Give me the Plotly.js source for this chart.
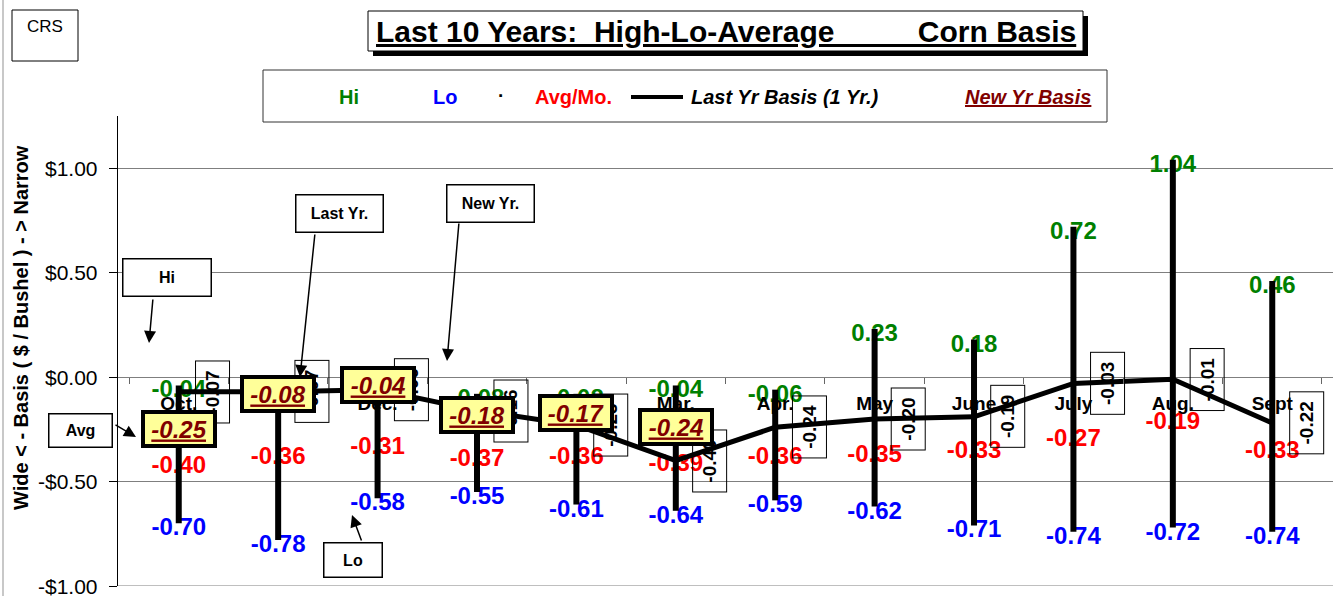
<!DOCTYPE html>
<html>
<head>
<meta charset="utf-8">
<script src="https://cdn.plot.ly/plotly-3.0.1.min.js"></script>
<style>html,body{margin:0;padding:0;background:#fff;}#chart{width:1337px;height:596px;}</style>
</head>
<body>
<div id="chart"></div>
<script>
// ---- data ----
const months = ['Oct.','Nov.','Dec.','Jan.','Feb.','Mar.','Apr.','May','June','July','Aug.','Sept'];
const hiVals = [-0.04,-0.10,-0.05,-0.08,-0.08,-0.04,-0.06,0.23,0.18,0.72,1.04,0.46];
const loVals = [-0.70,-0.78,-0.58,-0.55,-0.61,-0.64,-0.59,-0.62,-0.71,-0.74,-0.72,-0.74];
const avgVals = [-0.40,-0.36,-0.31,-0.37,-0.36,-0.39,-0.36,-0.35,-0.33,-0.27,-0.19,-0.33];
const lastYrVals = [-0.07,-0.07,-0.06,-0.16,-0.23,-0.40,-0.24,-0.20,-0.19,-0.03,-0.01,-0.22];
const newYrVals = [-0.25,-0.08,-0.04,-0.18,-0.17,-0.24,null,null,null,null,null,null];
const yTickVals = [-1,-0.5,0,0.5,1];
const yTickText = ['-$1.00','-$0.50','$0.00','$0.50','$1.00'];

const FONT = 'Arial, "Liberation Sans", sans-serif';
const L = 118, R = 4, T = 116, B = 10, W = 1337, H = 596;
const pw = W - L - R, ph = H - T - B;
const px = x => (x - L) / pw;
const py = y => (H - B - y) / ph;
const fmt = v => v.toFixed(2);
const Y_RANGE = [-1, 1.25];
const labelShift = 6 * (Y_RANGE[1] - Y_RANGE[0]) / ph; // value labels sit a few px below their value

// hi-lo bars built from the data arrays
const barX = [], barY = [];
months.forEach((m, i) => { barX.push(m, m, null); barY.push(hiVals[i], loVals[i], null); });

const textTrace = (vals, color) => ({
  type: 'scatter', mode: 'text', x: months, y: vals, yaxis: 'y2', text: vals.map(fmt),
  textposition: 'middle center', cliponaxis: false, hoverinfo: 'skip',
  textfont: {family: FONT, size: 24, color: color, weight: 'bold'}
});

const traces = [
  textTrace(hiVals, '#008000'),
  textTrace(loVals, '#0000FF'),
  textTrace(avgVals, '#FF0000'),
  {type: 'scatter', mode: 'lines', x: barX, y: barY, yaxis: 'y3', connectgaps: false,
   line: {color: 'black', width: 6}, hoverinfo: 'skip'},
  {type: 'scatter', mode: 'lines', x: months, y: lastYrVals, yaxis: 'y3',
   line: {color: 'black', width: 5}, hoverinfo: 'skip'}
];

const shapes = [
  {type: 'line', xref: 'paper', yref: 'paper', x0: px(3), x1: px(3), y0: py(0), y1: py(596), line: {color: '#c8c8c8', width: 2}},
  {type: 'line', xref: 'paper', yref: 'y', x0: 0, x1: 1, y0: -1, y1: -1, line: {color: '#7f7f7f', width: 1}},
  {type: 'rect', xref: 'paper', yref: 'paper', x0: px(12), x1: px(78), y0: py(61), y1: py(10), line: {color: 'black', width: 1}, fillcolor: 'white'},
  {type: 'rect', xref: 'paper', yref: 'paper', x0: px(373), x1: px(1088), y0: py(56), y1: py(16), line: {width: 0}, fillcolor: 'black'},
  {type: 'rect', xref: 'paper', yref: 'paper', x0: px(368), x1: px(1083), y0: py(51), y1: py(11), line: {color: 'black', width: 1}, fillcolor: 'white'},
  {type: 'rect', xref: 'paper', yref: 'paper', x0: px(263), x1: px(1107), y0: py(122), y1: py(70), line: {color: '#333', width: 1}, fillcolor: 'white'},
  {type: 'line', xref: 'paper', yref: 'paper', x0: px(631), x1: px(683), y0: py(97), y1: py(97), line: {color: 'black', width: 4}}
];

const ann = [];
const pAnn = (text, x, y, font, extra) => Object.assign({
  xref: 'paper', yref: 'paper', x: px(x), y: py(y), text: text, showarrow: false,
  xanchor: 'center', yanchor: 'middle', font: Object.assign({family: FONT, color: 'black'}, font)
}, extra || {});

// y axis title (kept clear of the tick labels)
ann.push(pAnn('Wide &lt; - Basis ( $ / Bushel ) - &gt; Narrow', 21, 328, {size: 20, weight: 'bold'}, {textangle: -90, borderpad: 0}));

ann.push(pAnn('CRS', 45, 27, {size: 17}));
const nb = '\u00a0';
ann.push(pAnn('<u>Last 10 Years:' + nb + nb + 'High-Lo-Average' + nb.repeat(10) + 'Corn Basis</u>', 726, 32, {size: 30, weight: 'bold'}));

// legend items
ann.push(pAnn('Hi', 349, 97, {size: 20, weight: 'bold', color: '#008000'}));
ann.push(pAnn('Lo', 445, 97, {size: 20, weight: 'bold', color: '#0000FF'}));
ann.push(pAnn('·', 501, 95, {size: 19, weight: 'bold'}));
ann.push(pAnn('Avg/Mo.', 573, 97, {size: 20, weight: 'bold', color: '#FF0000'}));
ann.push(pAnn('Last Yr Basis (1 Yr.)', 689, 97, {size: 20, weight: 'bold', style: 'italic'}, {xanchor: 'left'}));
ann.push(pAnn('<u>New Yr Basis</u>', 963, 97, {size: 20, weight: 'bold', style: 'italic', color: '#800000'}, {xanchor: 'left'}));

// callout boxes
const box = (text, cx, cy, w, h) => pAnn(text, cx, cy, {size: 16, weight: 'bold'},
  {bgcolor: 'white', bordercolor: 'black', borderwidth: 1.5, borderpad: 0, width: w - 3, height: h - 3});
ann.push(box('Hi', 167, 277, 90, 39));
ann.push(box('Last Yr.', 339, 213, 89, 39));
ann.push(box('New Yr.', 490, 203, 89, 39));
ann.push(box('Avg', 80, 430, 65, 35));
ann.push(box('Lo', 353, 560, 60, 36));

const arrow = (tx, ty, hx, hy) => ({
  xref: 'paper', yref: 'paper', x: px(hx), y: py(hy), ax: tx - hx, ay: ty - hy,
  text: '', showarrow: true, arrowhead: 2, arrowsize: 1.6, arrowwidth: 1.5, arrowcolor: 'black', standoff: 0
});
ann.push(arrow(153, 298, 149, 343));
ann.push(arrow(315, 233, 300, 377));
ann.push(arrow(459, 222, 447, 361));
ann.push(arrow(114, 424, 136, 437));
ann.push(arrow(362, 542, 352, 515));

// rotated last-year labels
months.forEach((m, i) => {
  ann.push({xref: 'x', yref: 'y', x: m, y: lastYrVals[i], xshift: 34, text: fmt(lastYrVals[i]),
    showarrow: false, textangle: -90, xanchor: 'center', yanchor: 'middle',
    font: {family: FONT, size: 19, weight: 'bold', color: 'black'},
    bordercolor: 'black', borderwidth: 1, borderpad: 0, width: 61, height: 33, bgcolor: 'rgba(0,0,0,0)'});
});

// new-year yellow boxes
months.forEach((m, i) => {
  if (newYrVals[i] === null) return;
  ann.push({xref: 'x', yref: 'y', x: m, y: newYrVals[i], text: '<u>' + fmt(newYrVals[i]) + '</u>',
    showarrow: false, xanchor: 'center', yanchor: 'middle',
    font: {family: FONT, size: 24, weight: 'bold', style: 'italic', color: '#800000'},
    bgcolor: '#FFFF99', bordercolor: 'black', borderwidth: 4, borderpad: 1, width: 66, height: 28});
});

// y tick labels
yTickVals.forEach((v, i) => {
  ann.push({xref: 'paper', yref: 'y', x: px(99), y: v, text: yTickText[i], showarrow: false,
    xanchor: 'right', yanchor: 'middle', borderpad: 0, font: {family: FONT, size: 21, color: 'black'}});
});

const layout = {
  width: W, height: H, margin: {l: L, r: R, t: T, b: B},
  paper_bgcolor: 'white', plot_bgcolor: 'white', showlegend: false,
  font: {family: FONT, color: 'black'},
  xaxis: {type: 'category', categoryorder: 'array', categoryarray: months,
    anchor: 'free', position: 1 / 2.25, showline: false, showgrid: false, zeroline: false,
    ticks: 'outside', tickson: 'boundaries', ticklen: 6, tickcolor: '#666', tickwidth: 1,
    ticklabelstandoff: 13,
    tickfont: {family: FONT, size: 19, color: 'black', weight: 'bold'}, fixedrange: true},
  yaxis: {range: Y_RANGE, tickvals: yTickVals, showticklabels: false,
    ticks: 'outside', ticklen: 8, tickcolor: 'black', showline: true, linecolor: 'black', linewidth: 1,
    showgrid: true, gridcolor: '#7f7f7f', gridwidth: 1, zeroline: true, zerolinecolor: '#7f7f7f', zerolinewidth: 1,
    fixedrange: true},
  yaxis2: {overlaying: 'y', range: [Y_RANGE[0] + labelShift, Y_RANGE[1] + labelShift], visible: false, fixedrange: true},
  yaxis3: {overlaying: 'y', range: Y_RANGE, visible: false, fixedrange: true},
  shapes: shapes,
  annotations: ann
};

Plotly.newPlot('chart', traces, layout, {displayModeBar: false, staticPlot: true});
</script>
</body>
</html>
